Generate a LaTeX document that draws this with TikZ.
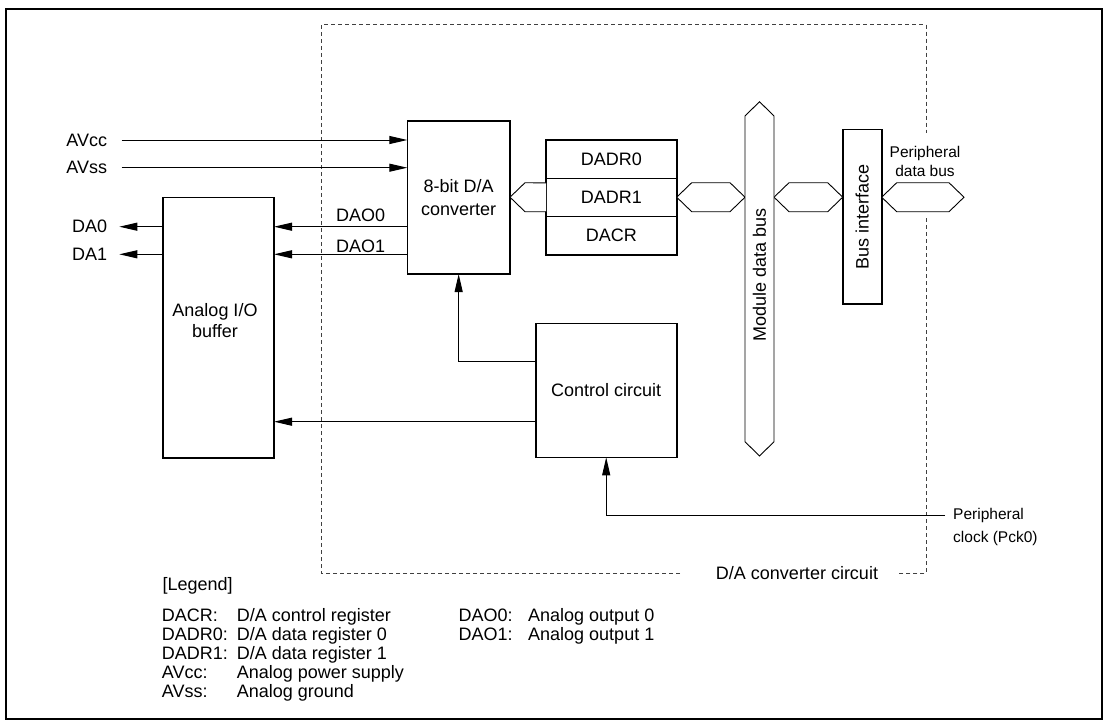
\documentclass[tikz,border=0pt]{standalone}
\usepackage{fontspec}
\setmainfont{Liberation Sans}
\usetikzlibrary{arrows.meta,positioning}

% bus symbol: left tip x, right tip x, centre y
\newcommand{\hbus}[3]{%
  \draw[bus] (#1,#3) -- (#1+15,#3-14.5) -- (#2-15,#3-14.5) -- (#2,#3)
    -- (#2-15,#3+14.5) -- (#1+15,#3+14.5) -- cycle;}

\begin{document}
\begin{tikzpicture}[x=1pt, y=-1pt,
  font=\fontsize{18}{22.5}\selectfont,
  blk/.style={draw, line width=1.6pt, inner sep=0pt, outer sep=0pt, align=center},
  reg/.style={blk, minimum width=130.7pt, minimum height=38.3pt},
  lbl/.style={inner sep=0pt},
  small/.style={inner sep=0pt, align=center, font=\fontsize{15.5}{19}\selectfont},
  sig/.style={line width=1pt, -{Triangle[length=18pt,width=8pt]}},
  bus/.style={line width=0.9pt, fill=white},
  frm/.style={line width=0.9pt, black!75, dash pattern=on 4pt off 3pt}
]
\useasboundingbox (0,0) rectangle (1105,726);
\draw[line width=2pt] (6,9) rectangle (1101.7,719);

% dashed outline of the converter circuit
\draw[frm] (680,573.3) -- (321.7,573.3) -- (321.7,24.3) -- (926,24.3) -- (926,133);
\draw[frm] (926,218) -- (926,573.3) -- (896.7,573.3);
\node[lbl] (dacc) at (797,573.3) {D/A converter circuit};

% blocks
\node[blk, minimum width=102.7pt, minimum height=153.3pt] (conv) at (458.65,197.35) {8-bit D/A\\converter};
\node[reg] (dadr0) at (611.35,159.15) {DADR0};
\node[reg, below=0pt of dadr0] (dadr1) {DADR1};
\node[reg, below=0pt of dadr1] (dacr) {DACR};
\node[blk, minimum width=111.3pt, minimum height=260.4pt] (buf) at (218.35,327.5) {};
\node[lbl, align=center, font=\fontsize{18}{21}\selectfont] (buftxt) at (215,321) {Analog I/O\\buffer};
\node[blk, minimum width=141pt, minimum height=134pt] (ctrl) at (606.2,390.3) {Control circuit};
\node[blk, minimum width=39pt, minimum height=174.7pt] (bif) at (862.2,216.65) {};
\node[lbl, rotate=90] (biftxt) at (bif) {Bus interface};

% buses
\draw[bus] (dadr1.west) ++(0,-14.5) -- (525,182.7) -- (510,197.2) -- (525,211.7) -- (546,211.7);
\hbus{676.7}{745}{197.2}
\hbus{774}{842.7}{197.2}
\hbus{881.7}{964}{197.2}
\draw[bus] (745,116) -- (759.5,101.7) -- (774,116) -- (774,441.7) -- (759.5,456) -- (745,441.7) -- cycle;
\node[lbl, rotate=90] (mbus) at (759.5,275) {Module data bus};
\node[small] (pdb) at (925,161.2) {Peripheral\\data bus};

% pins and signals
\node[lbl, anchor=east] (avcc) at (107.3,140) {AVcc};
\node[lbl, anchor=east] (avss) at (107.3,167.7) {AVss};
\node[lbl, anchor=east] (da0) at (107.3,226.7) {DA0};
\node[lbl, anchor=east] (da1) at (107.3,254.3) {DA1};
\draw[sig] ([xshift=14.4pt]avcc.east) -- (conv.west |- avcc.east);
\draw[sig] ([xshift=14.4pt]avss.east) -- (conv.west |- avss.east);
\draw[sig] (buf.west |- da0.east) -- ([xshift=12pt]da0.east);
\draw[sig] (buf.west |- da1.east) -- ([xshift=12pt]da1.east);
\draw[sig] (conv.west |- da0.east) -- (buf.east |- da0.east);
\draw[sig] (conv.west |- da1.east) -- (buf.east |- da1.east);
\node[lbl, anchor=base west] (dao0) at (336,221.5) {DAO0};
\node[lbl, anchor=base west] (dao1) at (336,252.2) {DAO1};
\draw[sig] ([yshift=-38.4pt]ctrl.north west) -| (conv.south);
\draw[sig] ([yshift=-98.4pt]ctrl.north west) coordinate (c2) -- (buf.east |- c2);
\node[small, anchor=north west, align=left, font=\fontsize{15.5}{23.4}\selectfont] (pclk) at (953,507.8) {Peripheral\\clock (Pck0)};
\draw[sig] ([xshift=-8pt, yshift=-7.2pt]pclk.north west) -| (ctrl.south);

% legend
\node[lbl, anchor=base west] (leg) at (162.3,590.5) {[Legend]};
\node[lbl, anchor=base west] (lg1a) at (161.7,621.5) {DACR:};
\node[lbl, anchor=base west] (lg1b) at (236.7,621.5) {D/A control register};
\node[lbl, anchor=base west] (lg2a) at (161.7,640.5) {DADR0:};
\node[lbl, anchor=base west] (lg2b) at (236.7,640.5) {D/A data register 0};
\node[lbl, anchor=base west] (lg3a) at (161.7,659.5) {DADR1:};
\node[lbl, anchor=base west] (lg3b) at (236.7,659.5) {D/A data register 1};
\node[lbl, anchor=base west] (lg4a) at (161.7,678.5) {AVcc:};
\node[lbl, anchor=base west] (lg4b) at (236.7,678.5) {Analog power supply};
\node[lbl, anchor=base west] (lg5a) at (161.7,697.5) {AVss:};
\node[lbl, anchor=base west] (lg5b) at (236.7,697.5) {Analog ground};
\node[lbl, anchor=base west] (lg6a) at (458.3,621.5) {DAO0:};
\node[lbl, anchor=base west] (lg6b) at (528,621.5) {Analog output 0};
\node[lbl, anchor=base west] (lg7a) at (458.3,640.5) {DAO1:};
\node[lbl, anchor=base west] (lg7b) at (528,640.5) {Analog output 1};
\end{tikzpicture}
\end{document}
